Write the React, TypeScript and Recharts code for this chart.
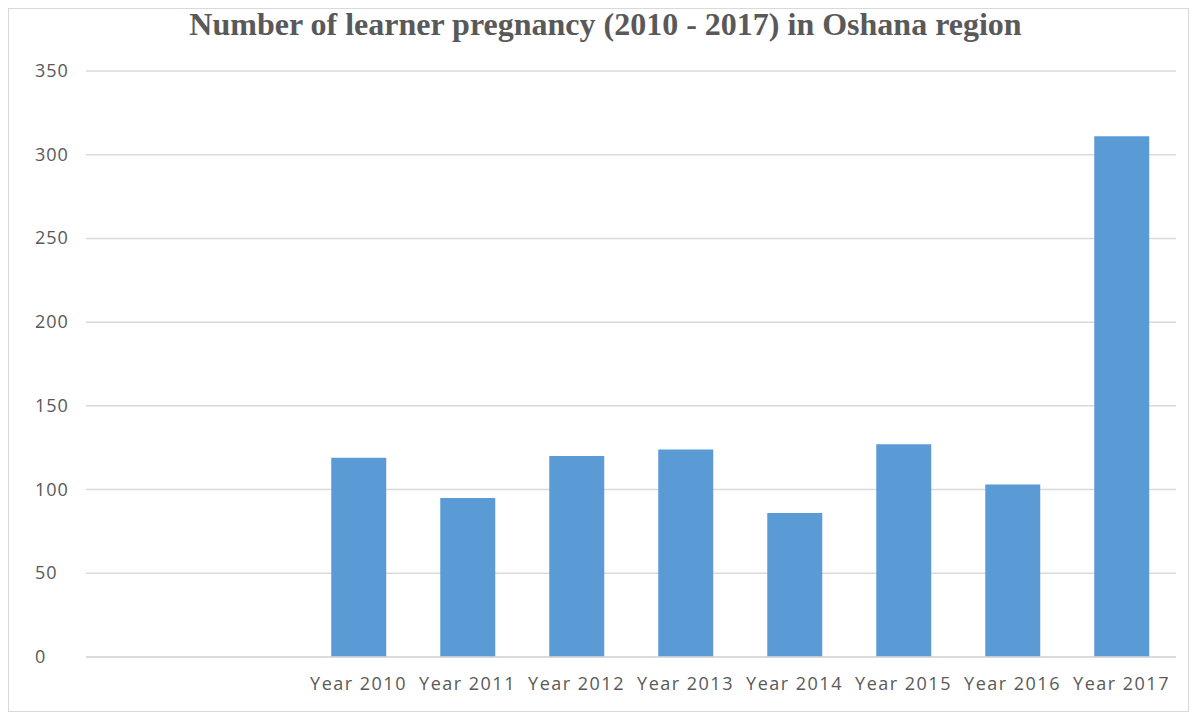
import React from "react";
import { BarChart, Bar, XAxis, YAxis, CartesianGrid } from "recharts";

const categories = ["", "", "Year 2010", "Year 2011", "Year 2012", "Year 2013", "Year 2014", "Year 2015", "Year 2016", "Year 2017"];
const pregnancies = [null, null, 119, 95, 120, 124, 86, 127, 103, 311];
const yTicks = [0, 50, 100, 150, 200, 250, 300, 350];
const title = "Number of learner pregnancy (2010 - 2017) in Oshana region";

const data = categories.map((name, i) => ({ name, value: pregnancies[i] }));

const TEXT = "#595959";
const FONT = "'Open Sans', sans-serif";

const YTick = (props: any) => {
  const { y, payload } = props;
  return (
    <text x={26} y={y} dy={6} textAnchor="start" fill={TEXT} fontSize={18} fontFamily={FONT} letterSpacing={1}>
      {payload.value}
    </text>
  );
};

export default function App() {
  return (
    <div style={{ position: "relative", width: 1181, height: 704, border: "1px solid #d9d9d9", boxSizing: "border-box", background: "#fff" }}>
      <div
        style={{
          position: "absolute",
          top: -3,
          left: 7,
          width: "100%",
          textAlign: "center",
          fontFamily: "'Liberation Serif', 'Times New Roman', serif",
          fontWeight: "bold",
          fontSize: 32,
          color: TEXT,
        }}
      >
        {title}
      </div>
      <BarChart
        width={1181}
        height={704}
        data={data}
        margin={{ top: 62, right: 14, bottom: 26, left: 0 }}
        barCategoryGap="25%"
      >
        <CartesianGrid vertical={false} stroke="#d9d9d9" strokeWidth={1.5} />
        <XAxis
          dataKey="name"
          axisLine={{ stroke: "#d9d9d9", strokeWidth: 1.5 }}
          tickLine={false}
          tickMargin={14}
          height={30}
          interval={0}
          tick={{ fill: TEXT, fontSize: 18, fontFamily: FONT, letterSpacing: 1.5 }}
        />
        <YAxis
          width={77}
          domain={[0, 350]}
          ticks={yTicks}
          axisLine={false}
          tickLine={false}
          tick={<YTick />}
        />
        <Bar dataKey="value" fill="#5b9bd5" isAnimationActive={false} />
      </BarChart>
    </div>
  );
}
